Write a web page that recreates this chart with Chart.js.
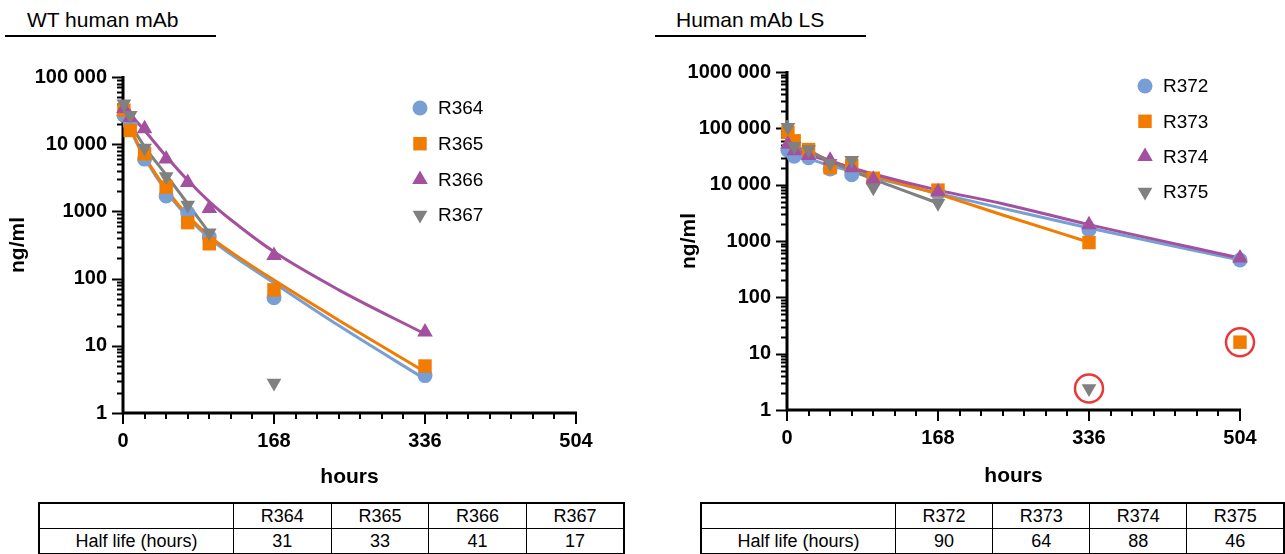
<!DOCTYPE html>
<html>
<head>
<meta charset="utf-8">
<script src="https://cdn.jsdelivr.net/npm/chart.js@4.4.0/dist/chart.umd.min.js"></script>
<style>
  body { margin: 0; width: 1285px; height: 554px; overflow: hidden; background: #fff; position: relative;
         font-family: 'Liberation Sans', Arial, sans-serif; color: #000; }
  .title { position: absolute; top: 8px; font-size: 21px; }
  .rule { position: absolute; top: 35px; width: 211px; border-top: 2px solid #000; }
  .wrap { position: absolute; top: 50px; width: 640px; height: 445px; }
  table { position: absolute; top: 502px; border-collapse: collapse; border: 2px solid #000;
          table-layout: fixed; font-size: 18px; }
  td { border: 1px solid #000; text-align: center; height: 24px; padding: 0; }
</style>
</head>
<body>
<div class="title" style="left:27px">WT human mAb</div>
<div class="rule" style="left:5px"></div>
<div class="title" style="left:676px">Human mAb LS</div>
<div class="rule" style="left:655px"></div>

<div class="wrap" style="left:0"><canvas id="wtChart"></canvas></div>
<div class="wrap" style="left:645px"><canvas id="lsChart"></canvas></div>

<table id="wtTable" style="left:38px; width:587px"></table>
<table id="lsTable" style="left:700px; width:585px"></table>

<script>
// --- WT human mAb: measured concentrations (ng/ml) ---
const hoursWT = [1, 8, 24, 48, 72, 96, 168, 336];
const r364 = [27000, 20000, 6000, 1700, 950, 420, 52, 3.6];
const r365 = [32000, 16000, 7200, 2300, 680, 330, 68, 5];
const r366 = [34000, 25000, 17000, 6000, 2700, 1100, 220, 16];
const r367 = [40000, 27000, 8800, 3300, 1250, 480, 2.8, null];

// fitted curves
const fitHoursWT = [0, 12, 24, 48, 72, 96, 120, 168, 240, 336];
const fit364 = [38000, 13000, 6300, 2000, 820, 400, 230, 86, 20, 3.2];
const fit365 = [36000, 13500, 6600, 2150, 870, 430, 250, 95, 24, 4.1];
const fit366 = [34000, 24000, 16000, 6600, 2900, 1400, 750, 250, 68, 15];
const fit367 = [45000, 17000, 9200, 3500, 1300, 480, null, null, null, null];

// --- Human mAb LS ---
const hoursLS = [1, 8, 24, 48, 72, 96, 168, 336, 504];
const r372 = [41000, 32000, 30000, 19000, 15000, 11500, 7000, 1580, 460];
const r373 = [85000, 60000, 42000, 20000, 22000, 13000, 8000, 940, 16];
const r374 = [52000, 40000, 33000, 27000, 20000, 12500, 7500, 1950, 500];
const r375 = [105000, 48000, 42000, 24000, 27000, 8800, 4700, 2.4, null];

const fitHoursLS = [0, 8, 24, 48, 96, 168, 240, 336, 504];
const fit372 = [43000, 36000, 29000, 22000, 13500, 7000, 3800, 1700, 460];
const fit373 = [80000, 50000, 38000, 27000, 14500, 6800, 2900, 950, null];
const fit374 = [56000, 43000, 34000, 26000, 15500, 8000, 4600, 1950, 500];
const fit375 = [140000, 55000, 40000, 26000, 12500, 4700, null, null, null];

// points left out of the fit (circled in red): [series index, time index]
const excludedLS = [[3, 7], [1, 8]];

const namesWT = ['R364', 'R365', 'R366', 'R367'];
const namesLS = ['R372', 'R373', 'R374', 'R375'];
const halfLifeWT = [31, 33, 41, 17];
const halfLifeLS = [90, 64, 88, 46];

const xTicks = [0, 168, 336, 504];
const yTicksWT = [1, 10, 100, 1000, 10000, 100000];
const yLabelsWT = ['1', '10', '100', '1000', '10 000', '100 000'];
const yTicksLS = [1, 10, 100, 1000, 10000, 100000, 1000000];
const yLabelsLS = ['1', '10', '100', '1000', '10 000', '100 000', '1000 000'];

const colors = ['#779fd5', '#f27c00', '#a3519f', '#808080'];
const shapes = [
  { pointStyle: 'circle', radius: 7.5, rotation: 0 },
  { pointStyle: 'rect', radius: 9.5, rotation: 0 },
  { pointStyle: 'triangle', radius: 9, rotation: 0 },
  { pointStyle: 'triangle', radius: 8.5, rotation: 180 }
];
const FONT = "'Liberation Sans', Arial, sans-serif";

function toXY(xs, ys) {
  return xs.map((x, i) => ({ x: x, y: ys[i] })).filter(p => p.y !== null);
}

function drawMarker(ctx, shape, x, y, color) {
  const r = shape.radius;
  ctx.fillStyle = color;
  ctx.beginPath();
  if (shape.pointStyle === 'circle') {
    ctx.arc(x, y, r, 0, Math.PI * 2);
  } else if (shape.pointStyle === 'rect') {
    const s = r * Math.SQRT1_2;
    ctx.rect(x - s, y - s, 2 * s, 2 * s);
  } else {
    const dir = shape.rotation ? -1 : 1;
    const h = r * Math.sqrt(3) / 2;
    ctx.moveTo(x, y - dir * r);
    ctx.lineTo(x + h, y + dir * r / 2);
    ctx.lineTo(x - h, y + dir * r / 2);
    ctx.closePath();
  }
  ctx.fill();
}

// axis lines with long ticks at labels and short minor ticks
const axisMarks = {
  id: 'axisMarks',
  beforeDatasetsDraw(chart) {
    const { ctx, chartArea: a, scales: { x, y } } = chart;
    ctx.save();
    ctx.strokeStyle = '#000';
    ctx.lineWidth = 2;
    const lo = Math.round(Math.log10(y.min));
    const hi = Math.round(Math.log10(y.max));
    for (let e = lo; e <= hi; e++) {
      for (let m = 1; m < 10; m++) {
        if (e === hi && m > 1) break;
        const py = Math.round(y.getPixelForValue(m * Math.pow(10, e))) + 0.5;
        const len = m === 1 ? 11 : 6;
        ctx.beginPath();
        ctx.moveTo(a.left - len, py);
        ctx.lineTo(a.left, py);
        ctx.stroke();
      }
    }
    for (let h = x.min; h <= x.max; h += 24) {
      const px = Math.round(x.getPixelForValue(h));
      const len = h % 168 === 0 ? 11 : 6;
      ctx.beginPath();
      ctx.moveTo(px, a.bottom);
      ctx.lineTo(px, a.bottom + len);
      ctx.stroke();
    }
    ctx.lineWidth = 3;
    ctx.beginPath();
    ctx.moveTo(a.left, a.top - 1);
    ctx.lineTo(a.left, a.bottom);
    ctx.lineTo(a.right + 1, a.bottom);
    ctx.stroke();
    ctx.restore();
  }
};

// legend listed down the plot
const keyList = {
  id: 'keyList',
  afterDraw(chart, args, opts) {
    const { ctx } = chart;
    ctx.save();
    ctx.font = '19px ' + FONT;
    ctx.textBaseline = 'middle';
    opts.names.forEach((name, i) => {
      const cy = opts.top + i * opts.step;
      drawMarker(ctx, shapes[i], opts.left, cy, colors[i]);
      ctx.fillStyle = '#000';
      ctx.fillText(name, opts.textLeft, cy + 1);
    });
    ctx.restore();
  }
};

function buildChart(id, cfg) {
  const datasets = [];
  // excluded points get a red ring
  (cfg.excluded || []).forEach(([s, t]) => {
    datasets.push({
      data: [{ x: cfg.hours[t], y: cfg.series[s][t] }],
      showLine: false, pointStyle: 'circle', pointRadius: 14,
      pointBackgroundColor: 'rgba(0,0,0,0)', pointBorderColor: '#e8383a',
      pointBorderWidth: 2.5, order: 0, clip: false
    });
  });
  cfg.series.forEach((vals, i) => {
    datasets.push({
      label: cfg.names[i],
      data: toXY(cfg.hours, vals),
      showLine: false,
      pointStyle: shapes[i].pointStyle,
      pointRadius: shapes[i].radius,
      rotation: shapes[i].rotation,
      pointBackgroundColor: colors[i],
      pointBorderWidth: 0,
      order: 5 - i,
      clip: false
    });
  });
  cfg.fits.forEach((vals, i) => {
    datasets.push({
      data: toXY(cfg.fitHours, vals),
      showLine: true,
      borderColor: colors[i],
      borderWidth: 3,
      pointRadius: 0,
      cubicInterpolationMode: 'monotone',
      order: 20 - i,
      clip: false
    });
  });

  return new Chart(document.getElementById(id), {
    type: 'scatter',
    data: { datasets },
    options: {
      responsive: true,
      maintainAspectRatio: false,
      animation: false,
      events: [],
      layout: { padding: cfg.padding },
      plugins: {
        legend: { display: false },
        tooltip: { enabled: false },
        keyList: cfg.key
      },
      scales: {
        x: {
          type: 'linear', min: 0, max: 504,
          afterBuildTicks: s => { s.ticks = xTicks.map(v => ({ value: v })); },
          afterFit: s => { s.height = cfg.xHeight; },
          grid: { display: false, drawTicks: true, tickLength: 10 },
          border: { display: false },
          ticks: { color: '#000', font: { family: FONT, size: 20, weight: 'bold' }, padding: 6, maxRotation: 0, autoSkip: false },
          title: { display: true, text: 'hours', color: '#000',
                   font: { family: FONT, size: 21, weight: 'bold' }, padding: { top: 0, bottom: cfg.xTitlePad } }
        },
        y: {
          type: 'logarithmic', min: cfg.yTicks[0], max: cfg.yTicks[cfg.yTicks.length - 1],
          afterBuildTicks: s => { s.ticks = cfg.yTicks.map(v => ({ value: v })); },
          afterFit: s => { s.width = cfg.yWidth; },
          grid: { display: false, drawTicks: true, tickLength: 11 },
          border: { display: false },
          ticks: {
            color: '#000', font: { family: FONT, size: 20, weight: 'bold' }, padding: 5, autoSkip: false,
            callback: v => cfg.yLabels[cfg.yTicks.indexOf(v)]
          },
          title: { display: true, text: 'ng/ml', color: '#000',
                   font: { family: FONT, size: 21, weight: 'bold' }, padding: { top: cfg.yTitlePad, bottom: 0 } }
        }
      }
    },
    plugins: [axisMarks, keyList]
  });
}

buildChart('wtChart', {
  hours: hoursWT, series: [r364, r365, r366, r367], names: namesWT,
  fitHours: fitHoursWT, fits: [fit364, fit365, fit366, fit367],
  yTicks: yTicksWT, yLabels: yLabelsWT,
  padding: { top: 27, right: 64, bottom: 0, left: 0 },
  yWidth: 123, xHeight: 82, xTitlePad: 5, yTitlePad: 6,
  key: { names: namesWT, left: 420, textLeft: 438, top: 58, step: 35.7 }
});

buildChart('lsChart', {
  hours: hoursLS, series: [r372, r373, r374, r375], names: namesLS,
  fitHours: fitHoursLS, fits: [fit372, fit373, fit374, fit375],
  yTicks: yTicksLS, yLabels: yLabelsLS, excluded: excludedLS,
  padding: { top: 22, right: 45, bottom: 0, left: 0 },
  yWidth: 142, xHeight: 85, xTitlePad: 6, yTitlePad: 32,
  key: { names: namesLS, left: 500, textLeft: 518, top: 36, step: 35.3 }
});

// half-life tables
function fillTable(id, names, values) {
  const t = document.getElementById(id);
  const head = '<tr><td style="width:193px"></td>' + names.map(n => '<td>' + n + '</td>').join('') + '</tr>';
  const row = '<tr><td>Half life (hours)</td>' + values.map(v => '<td>' + v + '</td>').join('') + '</tr>';
  t.innerHTML = head + row;
}
fillTable('wtTable', namesWT, halfLifeWT);
fillTable('lsTable', namesLS, halfLifeLS);
</script>
</body>
</html>
